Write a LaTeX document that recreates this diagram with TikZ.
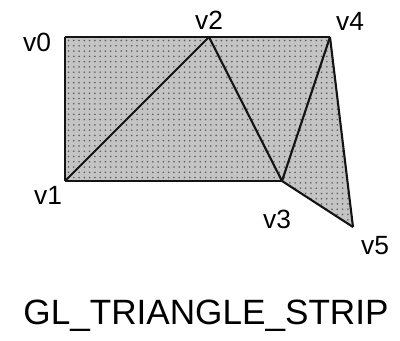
\documentclass[tikz,border=0pt]{standalone}
\usepackage{fontspec}
\setmainfont{Liberation Sans}
\usetikzlibrary{patterns}
\definecolor{stripfill}{HTML}{C4C4C4}
\definecolor{stripdot}{HTML}{5A5A5A}
\definecolor{edgeblack}{HTML}{141414}

\begin{document}
\begin{tikzpicture}[
    x=0.02cm, y=-0.02cm,
    edge/.style={edgeblack, line width=1.2pt, line join=round},
    vlabel/.style={font=\fontsize{15}{17}\selectfont, inner sep=0pt},
]
\useasboundingbox (0,0) rectangle (400,341);

% Vertices of the strip
\coordinate (v0) at (65,37);
\coordinate (v1) at (65,181);
\coordinate (v2) at (209,37);
\coordinate (v3) at (282,181);
\coordinate (v4) at (330,37);
\coordinate (v5) at (353,227);

% Shaded area covered by the triangles
\fill[stripfill] (v0) -- (v2) -- (v4) -- (v5) -- (v3) -- (v1) -- cycle;
\fill[pattern=dots, pattern color=stripdot]
    (v0) -- (v2) -- (v4) -- (v5) -- (v3) -- (v1) -- cycle;

% Triangle edges
\draw[edge] (v0) -- (v4);
\draw[edge] (v0) -- (v1);
\draw[edge] (v1) -- (v3);
\draw[edge] (v1) -- (v2);
\draw[edge] (v2) -- (v3);
\draw[edge] (v3) -- (v4);
\draw[edge] (v4) -- (v5);
\draw[edge] (v3) -- (v5);

% Vertex labels
\node[vlabel] (l0) at (37,42) {v0};
\node[vlabel] (l1) at (48,195) {v1};
\node[vlabel] (l2) at (209,20) {v2};
\node[vlabel] (l3) at (277,219) {v3};
\node[vlabel] (l4) at (350,21) {v4};
\node[vlabel] (l5) at (375,246) {v5};

% Title
\node[font=\fontsize{20}{24}\selectfont, inner sep=0pt] (title) at (206,316)
    {GL\_TRIANGLE\_STRIP};

\end{tikzpicture}
\end{document}
